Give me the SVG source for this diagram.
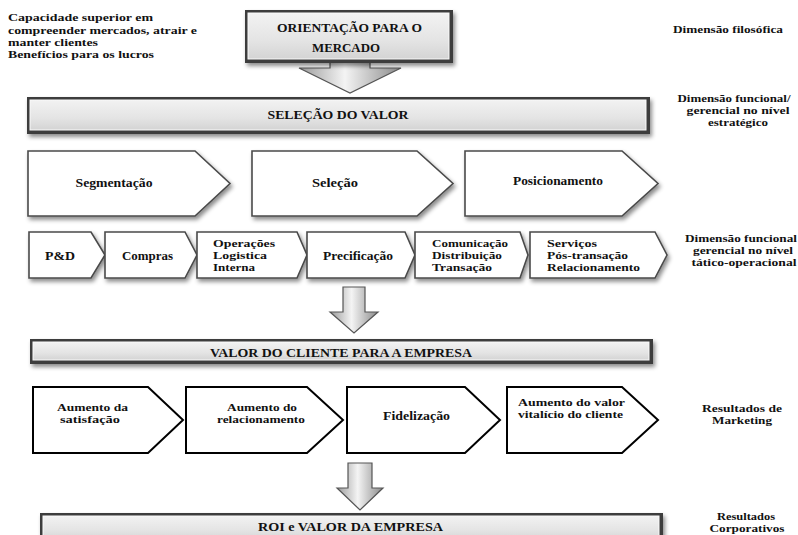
<svg xmlns="http://www.w3.org/2000/svg" width="798" height="535" viewBox="0 0 798 535" font-family="'Liberation Serif','Times New Roman',serif">
<defs>
<linearGradient id="barG" x1="0" y1="0" x2="0" y2="1">
<stop offset="0" stop-color="#f2f2f2"/>
<stop offset="0.6" stop-color="#e4e4e4"/>
<stop offset="1" stop-color="#d4d4d4"/>
</linearGradient>
<linearGradient id="arrG" x1="0" y1="0" x2="1" y2="0">
<stop offset="0" stop-color="#9a9a9a"/>
<stop offset="0.45" stop-color="#f4f4f4"/>
<stop offset="1" stop-color="#8a8a8a"/>
</linearGradient>
<filter id="sh" x="-10%" y="-20%" width="125%" height="150%">
<feDropShadow dx="2" dy="3" stdDeviation="2" flood-color="#000" flood-opacity="0.45"/>
</filter>
</defs>
<style>
text{font-family:"Liberation Serif","Times New Roman",serif;font-weight:bold;fill:#111;}
.s{font-size:13.5px;}
.m{font-size:11px;}
.r{font-size:11px;}
.c{text-anchor:middle;}
.bo{fill:#3c3c3c;}
.bi{fill:url(#barG);stroke:#fafafa;stroke-width:1;}
.chv{fill:#fff;stroke:#4a4a4a;stroke-width:1.6;filter:url(#sh);}
.chw{fill:#fff;stroke:#000;stroke-width:2;}
.arr{fill:url(#arrG);stroke:#555;stroke-width:1.2;}
</style>

<g id="nota">
<text class="m" x="8" y="21" textLength="145" lengthAdjust="spacingAndGlyphs">Capacidade  superior  em</text>
<text class="m" x="8" y="34" textLength="189" lengthAdjust="spacingAndGlyphs">compreender  mercados,  atrair  e</text>
<text class="m" x="8" y="46" textLength="90" lengthAdjust="spacingAndGlyphs">manter  clientes</text>
<text class="m" x="8" y="58" textLength="146" lengthAdjust="spacingAndGlyphs">Benefícios para  os lucros</text>
</g>

<g id="connectors">
<path class="arr" d="M330,50 H370 V68 H401 L350,93 L299,68 H330 Z"/>
<path class="arr" d="M343,287 H365 V312 H378 L354,333 L330,312 H343 Z"/>
<path class="arr" d="M348,463 H372 V488 H383 L360,510 L337,488 H348 Z"/>
</g>

<g id="orientacao">
<rect class="bo" x="245" y="10" width="208" height="53" filter="url(#sh)"/>
<rect class="bi" x="248" y="13" width="201" height="46"/>
<text class="s c" x="349.5" y="32" textLength="145" lengthAdjust="spacingAndGlyphs">ORIENTAÇÃO  PARA  O</text>
<text class="s c" x="346" y="52" textLength="68" lengthAdjust="spacingAndGlyphs">MERCADO</text>
</g>

<g id="selecao-valor">
<rect class="bo" x="27" y="97" width="623" height="37" filter="url(#sh)"/>
<rect class="bi" x="30" y="100" width="616" height="30"/>
<text class="s c" x="338" y="119" textLength="141" lengthAdjust="spacingAndGlyphs">SELEÇÃO  DO VALOR</text>
</g>

<g id="segmentacao">
<path class="chv" d="M28,151 H195 L230,183.5 L195,216 H28 Z"/>
<text class="s c" x="114" y="187" textLength="77" lengthAdjust="spacingAndGlyphs">Segmentação</text>
</g>
<g id="selecao">
<path class="chv" d="M252,151 H417 L453,183.5 L417,216 H252 Z"/>
<text class="s c" x="335" y="187" textLength="46" lengthAdjust="spacingAndGlyphs">Seleção</text>
</g>
<g id="posicionamento">
<path class="chv" d="M465,151 H622 L658,183.5 L622,216 H465 Z"/>
<text class="s c" x="558" y="185" textLength="90" lengthAdjust="spacingAndGlyphs">Posicionamento</text>
</g>

<g id="pd">
<path class="chv" d="M29,232 H91 L105,255 L91,278 H29 Z"/>
<text class="s c" x="60" y="260" textLength="30" lengthAdjust="spacingAndGlyphs">P&amp;D</text>
</g>
<g id="compras">
<path class="chv" d="M105,232 H185 L197,255 L185,278 H105 Z"/>
<text class="s c" x="147.5" y="260" textLength="51" lengthAdjust="spacingAndGlyphs">Compras</text>
</g>
<g id="operacoes">
<path class="chv" d="M197,232 H297 L307,255 L297,278 H197 Z"/>
<text class="m" x="213" y="246.5" textLength="62" lengthAdjust="spacingAndGlyphs">Operações</text>
<text class="m" x="213" y="258.5" textLength="54" lengthAdjust="spacingAndGlyphs">Logistica</text>
<text class="m" x="213" y="270.5" textLength="42" lengthAdjust="spacingAndGlyphs">Interna</text>
</g>
<g id="precificacao">
<path class="chv" d="M307,232 H405 L415,255 L405,278 H307 Z"/>
<text class="s c" x="358" y="260" textLength="70" lengthAdjust="spacingAndGlyphs">Precificação</text>
</g>
<g id="comunicacao">
<path class="chv" d="M415,232 H520 L528,255 L520,278 H415 Z"/>
<text class="m" x="432" y="246.5" textLength="76" lengthAdjust="spacingAndGlyphs">Comunicação</text>
<text class="m" x="432" y="258.5" textLength="70" lengthAdjust="spacingAndGlyphs">Distribuição</text>
<text class="m" x="432" y="270.5" textLength="60" lengthAdjust="spacingAndGlyphs">Transação</text>
</g>
<g id="servicos">
<path class="chv" d="M530,232 H655 L667,255 L655,278 H530 Z"/>
<text class="m" x="547" y="246.5" textLength="50" lengthAdjust="spacingAndGlyphs">Serviços</text>
<text class="m" x="547" y="258.5" textLength="81" lengthAdjust="spacingAndGlyphs">Pós-transação</text>
<text class="m" x="547" y="270.5" textLength="93" lengthAdjust="spacingAndGlyphs">Relacionamento</text>
</g>

<g id="valor-cliente">
<rect class="bo" x="30" y="339" width="623" height="25" filter="url(#sh)"/>
<rect class="bi" x="33" y="342" width="616" height="18"/>
<text class="s c" x="341" y="356.5" textLength="262" lengthAdjust="spacingAndGlyphs">VALOR DO CLIENTE  PARA A EMPRESA</text>
</g>

<g id="satisfacao">
<path class="chw" d="M33,387 H148 L183,420 L148,453 H33 Z"/>
<text class="m c" x="92.5" y="411" textLength="71" lengthAdjust="spacingAndGlyphs">Aumento  da</text>
<text class="m c" x="90" y="423" textLength="60" lengthAdjust="spacingAndGlyphs">satisfação</text>
</g>
<g id="relacionamento">
<path class="chw" d="M186,387 H307 L343,420 L307,453 H186 Z"/>
<text class="m c" x="262" y="411" textLength="70" lengthAdjust="spacingAndGlyphs">Aumento  do</text>
<text class="m c" x="261" y="423" textLength="88" lengthAdjust="spacingAndGlyphs">relacionamento</text>
</g>
<g id="fidelizacao">
<path class="chw" d="M347,387 H465 L500,420 L465,453 H347 Z"/>
<text class="s c" x="416.5" y="420" textLength="67" lengthAdjust="spacingAndGlyphs">Fidelização</text>
</g>
<g id="valor-vitalicio">
<path class="chw" d="M507,387 H622 L658,420 L622,453 H507 Z"/>
<text class="m c" x="571.5" y="406" textLength="107" lengthAdjust="spacingAndGlyphs">Aumento  do valor</text>
<text class="m c" x="570.5" y="418" textLength="105" lengthAdjust="spacingAndGlyphs">vitalício  do  cliente</text>
</g>

<g id="roi">
<rect class="bo" x="40" y="513" width="623" height="30" filter="url(#sh)"/>
<rect class="bi" x="43" y="516" width="616" height="24"/>
<text class="s c" x="350.5" y="531" textLength="185" lengthAdjust="spacingAndGlyphs">ROI e VALOR   DA EMPRESA</text>
</g>

<g id="rotulos">
<text class="r c" x="728" y="33" textLength="110" lengthAdjust="spacingAndGlyphs">Dimensão filosófica</text>
<text class="r c" x="734" y="102" textLength="113" lengthAdjust="spacingAndGlyphs">Dimensão funcional/</text>
<text class="r c" x="738" y="114" textLength="103" lengthAdjust="spacingAndGlyphs">gerencial no nível</text>
<text class="r c" x="738" y="126" textLength="60" lengthAdjust="spacingAndGlyphs">estratégico</text>
<text class="r c" x="741" y="242" textLength="112" lengthAdjust="spacingAndGlyphs">Dimensão funcional</text>
<text class="r c" x="743" y="254" textLength="100" lengthAdjust="spacingAndGlyphs">gerencial no nível</text>
<text class="r c" x="744" y="266" textLength="105" lengthAdjust="spacingAndGlyphs">tático-operacional</text>
<text class="r c" x="742" y="412" textLength="80" lengthAdjust="spacingAndGlyphs">Resultados de</text>
<text class="r c" x="742" y="424" textLength="60" lengthAdjust="spacingAndGlyphs">Marketing</text>
<text class="r c" x="746" y="520" textLength="58" lengthAdjust="spacingAndGlyphs">Resultados</text>
<text class="r c" x="747" y="532" textLength="75" lengthAdjust="spacingAndGlyphs">Corporativos</text>
</g>
</svg>
